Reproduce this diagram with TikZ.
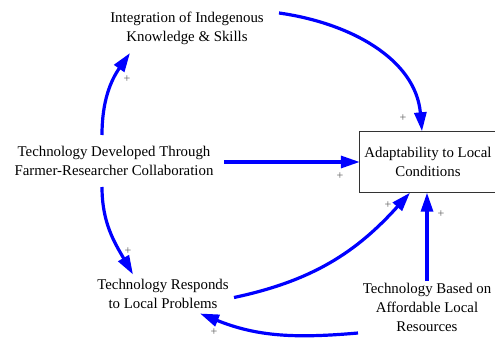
\documentclass[tikz,border=0pt]{standalone}
\usepackage{fontspec}
\setmainfont{Liberation Serif}
\usetikzlibrary{arrows.meta}
\definecolor{arrblue}{RGB}{0,0,255}
\definecolor{plusgray}{RGB}{90,90,90}
\tikzset{
  lbl/.style={align=center, inner sep=0pt, font=\fontsize{14.85}{19}\selectfont},
  boxnode/.style={minimum width=136pt, minimum height=61pt, align=center, inner sep=0pt, font=\fontsize{14.85}{19}\selectfont},
  boxline/.style={draw=black!80, line width=0.9pt, fill=white},
  arr/.style={draw=arrblue, line width=3.2pt, -{Triangle[length=19pt,width=12pt]}},
  pl/.style={text=plusgray, inner sep=0pt, font=\fontsize{12}{12}\selectfont}
}
\begin{document}
\begin{tikzpicture}[x=1pt,y=1pt]
\useasboundingbox (0,0) rectangle (495,338);
\clip (0,0) rectangle (495,338);
\node[lbl] (Integ) at (187,310) {Integration of Indegenous\\Knowledge \& Skills};
\node[lbl] (TDev) at (114,177) {Technology Developed Through\\Farmer-Researcher Collaboration};
\node[boxnode] (Box) at (428,176) {};
\draw[boxline] ([xshift=30pt]Box.north east) -- (Box.north west) -- (Box.south west) -- ([xshift=30pt]Box.south east);
\node[boxnode] at (Box.center) {Adaptability to Local\\Conditions};
\node[lbl] (Resp) at (163,44.5) {Technology Responds\\to Local Problems};
\node[lbl] (Based) at (427,31) {Technology Based on\\Affordable Local\\Resources};

\draw[arr] ([shift={(-12,26)}]TDev.center) to[out=90,in=-125] ([shift={(-57,-25)}]Integ.center);
\draw[arr] ([shift={(92,15)}]Integ.center) to[out=-8,in=95] ([xshift=-6]Box.north);
\draw[arr] ([shift={(110,-1)}]TDev.center) -- (Box.west);
\draw[arr] ([shift={(-12,-26)}]TDev.center) to[out=-90,in=120] ([shift={(-30,19)}]Resp.center);
\draw[arr] ([shift={(71,-4)}]Resp.center) to[out=12,in=228] ([xshift=-18]Box.south);
\draw[arr] ([shift={(0,26)}]Based.center) -- ([xshift=-1]Box.south);
\draw[arr] ([shift={(-69,-26)}]Based.center) to[out=185,in=-22] ([shift={(37,-20)}]Resp.center);

\node[pl] (p1) at (127,259) {+};
\node[pl] (p2) at (403,220) {+};
\node[pl] (p3) at (340,162) {+};
\node[pl] (p4) at (128,87) {+};
\node[pl] (p5) at (388,133) {+};
\node[pl] (p6) at (441,124) {+};
\node[pl] (p7) at (214,6) {+};
\end{tikzpicture}
\end{document}
